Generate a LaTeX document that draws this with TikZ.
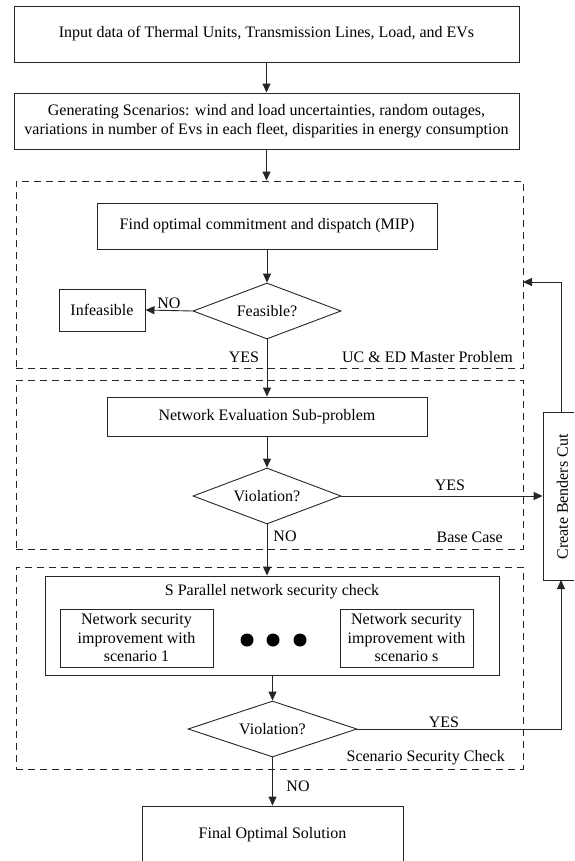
\documentclass[tikz,border=0pt]{standalone}
\usepackage{fontspec}
\setmainfont{Liberation Serif}
\usetikzlibrary{arrows.meta,shapes.geometric,calc}
\begin{document}
\begin{tikzpicture}[x=1pt,y=-1pt,
  ln/.style={draw=black!85,line width=0.9pt},
  box/.style={ln,rectangle,inner sep=0pt,align=center,font=\fontsize{16}{18.5}\selectfont},
  grp/.style={draw=black!85,line width=0.9pt,dash pattern=on 7pt off 5pt,rectangle,inner sep=0pt},
  dec/.style={ln,diamond,inner sep=0pt,aspect=2.6,font=\fontsize{16}{18.5}\selectfont},
  arr/.style={ln,-{Triangle[length=9pt,width=8pt]}},
  lbl/.style={inner sep=0pt,font=\fontsize{16}{18.5}\selectfont}]
\path[use as bounding box] (0,0) rectangle (574,861);
\clip (0,0) rectangle (574,861);
% group boxes
\node[grp,minimum width=507pt,minimum height=187pt] (mp) at (269.5,274.5) {};
\node[grp,minimum width=507pt,minimum height=169pt] (bc) at (269.5,464.5) {};
\node[grp,minimum width=507pt,minimum height=202pt] (ssc) at (269.5,668) {};
% main boxes
\node[box,minimum width=505pt,minimum height=56pt] (b1) at (266.5,34) {Input data of Thermal Units, Transmission Lines, Load, and EVs};
\node[box,minimum width=505pt,minimum height=56pt] (b2) at (266.5,121) {Generating Scenarios: wind and load uncertainties, random outages,\\variations in number of Evs in each fleet, disparities in energy consumption};
\node[box,minimum width=340pt,minimum height=46pt] (find) at (267,226) {Find optimal commitment and dispatch (MIP)};
\node[dec,minimum width=148pt,minimum height=56pt] (feas) at (267,311) {Feasible?};
\node[box,minimum width=86pt,minimum height=42pt] (inf) at (102,310) {Infeasible};
\node[box,minimum width=320pt,minimum height=39pt] (net) at (267,416.5) {Network Evaluation Sub-problem};
\node[dec,minimum width=148pt,minimum height=56pt] (v1) at (267,496) {Violation?};
\node[box,minimum width=454pt,minimum height=99pt] (par) at (272,625.5) {};
\node[lbl] (partitle) at (272,592) {S Parallel network security check};
\node[box,minimum width=153pt,minimum height=58pt] (subl) at (136.5,638) {Network security\\improvement with\\scenario 1};
\node[box,minimum width=133pt,minimum height=58pt] (subr) at (406.5,638) {Network security\\improvement with\\scenario s};
\fill[black] (247,640) circle (6.5pt) (273,640) circle (6.5pt) (300,640) circle (6.5pt);
\node[dec,minimum width=169pt,minimum height=56pt,aspect=3] (v2) at (272.5,729) {Violation?};
\node[box,minimum width=261pt,minimum height=58pt] (fin) at (272.5,835) {Final Optimal Solution};
\node[box,minimum width=39pt,minimum height=168pt] (bend) at (562.5,496) {};
\node[lbl,rotate=90] (bendt) at (562.5,497) {Create Benders Cut};
% group labels
\node[lbl,anchor=east] (lmp) at (513,357) {UC \& ED Master Problem};
\node[lbl,anchor=east] (lbc) at (503,537) {Base Case};
\node[lbl,anchor=east] (lssc) at (505,758) {Scenario Security Check};
% connectors
\draw[arr] (b1.south) -- (b2.north);
\draw[arr] (b2.south) -- (b2.south |- mp.north);
\draw[arr] (find.south) -- (feas.north);
\draw[arr] (feas.west) -- (inf.east) node[lbl,pos=0.5,above=1pt] (lno1) {NO};
\draw[arr] (feas.south) -- (net.north);
\node[lbl] (lyes1) at (244,357) {YES};
\draw[arr] (net.south) -- (v1.north);
\draw[arr] (v1.east) -- (bend.west);
\node[lbl] (lyes2) at (450,485) {YES};
\draw[arr] (v1.south) -- (v1.south |- par.north);
\node[lbl] (lno2) at (285,536) {NO};
\draw[arr] (v2.north |- par.south) -- (v2.north);
\coordinate (bbot) at (561,580);
\draw[arr] (v2.east) -| (bbot);
\node[lbl] (lyes3) at (444,722) {YES};
\coordinate (mpin) at (523,282);
\coordinate (btop) at (561,412);
\draw[arr] (btop) |- (mpin);
\draw[arr] (v2.south) -- (fin.north);
\node[lbl] (lno3) at (298,786) {NO};
\end{tikzpicture}
\end{document}
